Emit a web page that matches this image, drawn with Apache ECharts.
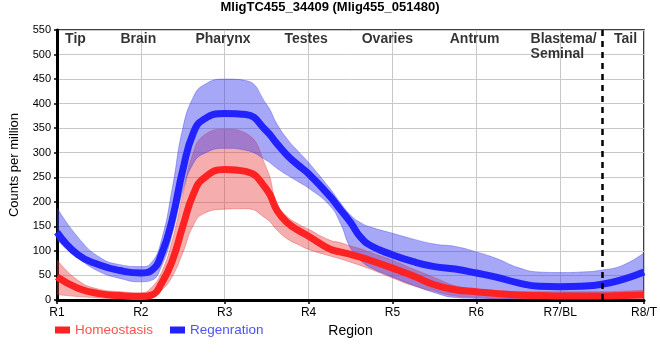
<!DOCTYPE html>
<html>
<head>
<meta charset="utf-8">
<script src="https://cdn.jsdelivr.net/npm/echarts@6/dist/echarts.min.js"></script>
<style>html,body{margin:0;padding:0;background:#fff}#c{width:660px;height:360px}</style>
</head>
<body>
<div id="c"></div>
<script>
const titleText = 'MligTC455_34409 (Mlig455_051480)';
const regions = ['R1', 'R2', 'R3', 'R4', 'R5', 'R6', 'R7/BL', 'R8/T'];
const xs = [0, 0.25, 0.5, 0.75, 1, 1.125, 1.25, 1.375, 1.5, 1.625, 1.75, 2, 2.25, 2.5, 2.625, 2.75, 2.875, 3, 3.25, 3.375, 3.5, 3.625, 3.75, 4, 4.25, 4.5, 4.75, 5, 5.25, 5.5, 5.75, 6, 6.25, 6.5, 6.75, 7];

const homeoMean = [47, 24, 13, 9, 7, 10, 35, 80, 150, 215, 248, 266, 262, 225, 182, 157, 142, 130, 104, 98, 93, 87, 80, 65, 49, 31, 21, 17, 13, 10, 9, 8, 8, 8, 9, 10];
const homeoHigh = [82, 40, 22, 17, 15, 25, 58, 122, 215, 300, 335, 348, 340, 268, 196, 169, 155, 144, 122, 117, 110, 104, 96, 81, 63, 46, 29, 22, 19, 17, 17, 17, 17, 17, 18, 20];
const homeoLow  = [11, 7, 4, 2, 2, 4, 20, 48, 96, 152, 176, 185, 186, 165, 142, 124, 113, 103, 90, 84, 77, 70, 62, 45, 29, 18, 8, 5, 3, 3, 3, 3, 3, 3, 3, 4];

const regenMean = [138, 92, 72, 60, 55, 60, 95, 165, 265, 340, 368, 380, 378, 344, 318, 294, 275, 257, 212, 185, 158, 127, 110, 92, 78, 68, 63, 55, 46, 35, 28, 27, 28, 32, 42, 57];
const regenHigh = [188, 128, 88, 72, 68, 76, 125, 228, 350, 413, 438, 450, 447, 398, 358, 327, 303, 280, 228, 199, 173, 157, 148, 136, 124, 114, 109, 98, 84, 66, 57, 56, 57, 61, 71, 96];
const regenLow  = [122, 86, 58, 44, 37, 40, 70, 135, 222, 278, 298, 309, 305, 284, 268, 254, 241, 228, 193, 158, 106, 80, 65, 47, 30, 15, 5, 3, 2, 2, 2, 2, 2, 3, 4, 6];

const tissueLabels = ['Tip', 'Brain', 'Pharynx', 'Testes', 'Ovaries', 'Antrum', 'Blastema/\nSeminal', 'Tail'];
const tissueLabelX = [0.22, 0.97, 1.98, 2.97, 3.94, 4.98, 5.647, 6.78];
const tissueLabelAlign = ['center', 'center', 'center', 'center', 'center', 'center', 'left', 'center'];
const tissueLabelY = 547;
const dividerX = 6.5;

const pair = (vals) => xs.map((x, i) => [x, vals[i]]);
// value first so that stacking applies to the y dimension
const pairYX = (vals) => xs.map((x, i) => [vals[i], x]);
const diffYX = (hi, lo) => xs.map((x, i) => [hi[i] - lo[i], x]);

const SMOOTH = 0.5;

function band(stackId, lo, hi, fill, edge) {
  return [
    { type: 'line', stack: stackId, data: pairYX(lo), encode: { x: 1, y: 0 }, smooth: SMOOTH,
      symbol: 'none', silent: true, lineStyle: { width: 1, color: edge }, z: 2 },
    { type: 'line', stack: stackId, data: diffYX(hi, lo), encode: { x: 1, y: 0 }, smooth: SMOOTH,
      symbol: 'none', silent: true, lineStyle: { width: 1, color: edge }, areaStyle: { color: fill, opacity: 1 }, z: 2 }
  ];
}

const chart = echarts.init(document.getElementById('c'), null, { renderer: 'canvas' });
chart.setOption({
  animation: false,
  textStyle: { fontFamily: 'Liberation Sans, Arial, sans-serif' },
  title: { text: titleText, left: 'center', top: 1, padding: 0,
    textStyle: { fontSize: 13, fontWeight: 'bold', color: '#000' } },
  legend: {
    left: 50, top: 318, icon: 'rect', itemWidth: 15, itemHeight: 7, itemGap: 17,
    textStyle: { fontSize: 13.5 },
    data: [
      { name: 'Homeostasis', textStyle: { color: '#ff5050' } },
      { name: 'Regenration', textStyle: { color: '#5050ff' } }
    ]
  },
  grid: { left: 50, right: 10, top: 30, bottom: 60, show: true, borderColor: '#000', borderWidth: 1.5 },
  xAxis: {
    type: 'value', min: 0, max: 7, interval: 1,
    name: 'Region', nameLocation: 'middle', nameGap: 24,
    nameTextStyle: { fontSize: 14, color: '#000' },
    axisLine: { show: true, lineStyle: { color: '#000', width: 3 } },
    axisTick: { show: true, length: 4, lineStyle: { color: '#000', width: 1.5 } },
    axisLabel: { formatter: (v) => regions[v] || '', color: '#000', fontSize: 12, margin: 7 },
    splitLine: { show: true, lineStyle: { color: '#c8c8c8', width: 1 } }
  },
  yAxis: {
    type: 'value', min: 0, max: 550, interval: 50,
    name: 'Counts per million', nameLocation: 'middle', nameGap: 36,
    nameTextStyle: { fontSize: 13, color: '#000' },
    axisLine: { show: true, lineStyle: { color: '#000', width: 3 } },
    axisTick: { show: true, length: 3, lineStyle: { color: '#000', width: 1.5 } },
    axisLabel: { color: '#000', fontSize: 11, margin: 6 },
    splitLine: { show: true, lineStyle: { color: '#c8c8c8', width: 1 } }
  },
  series: [
    ...band('h', homeoLow, homeoHigh, 'rgba(232,60,60,0.42)', 'rgba(220,50,50,0.35)'),
    { name: 'Homeostasis', type: 'line', data: pair(homeoMean), smooth: SMOOTH, symbol: 'none',
      lineStyle: { width: 7, color: '#ff2222' }, itemStyle: { color: '#ff2222' }, z: 3 },
    ...band('r', regenLow, regenHigh, 'rgba(60,60,240,0.45)', 'rgba(50,50,230,0.35)'),
    { name: 'Regenration', type: 'line', data: pair(regenMean), smooth: SMOOTH, symbol: 'none',
      lineStyle: { width: 7, color: '#2222ff' }, itemStyle: { color: '#2222ff' }, z: 3 },
    { type: 'scatter', symbolSize: 0, silent: true, z: 5,
      data: tissueLabels.map((t, i) => ({ name: t, value: [tissueLabelX[i], tissueLabelY],
        label: { align: tissueLabelAlign[i] } })),
      label: { show: true, position: [0, 0], formatter: '{b}', verticalAlign: 'top',
        fontSize: 14, fontWeight: 'bold', color: '#000', lineHeight: 15 },
      markLine: { silent: true, symbol: 'none', animation: false,
        label: { show: false },
        lineStyle: { color: '#000', type: [6, 5], width: 2.5 },
        data: [{ xAxis: dividerX }] }
    }
  ]
});
</script>
</body>
</html>
